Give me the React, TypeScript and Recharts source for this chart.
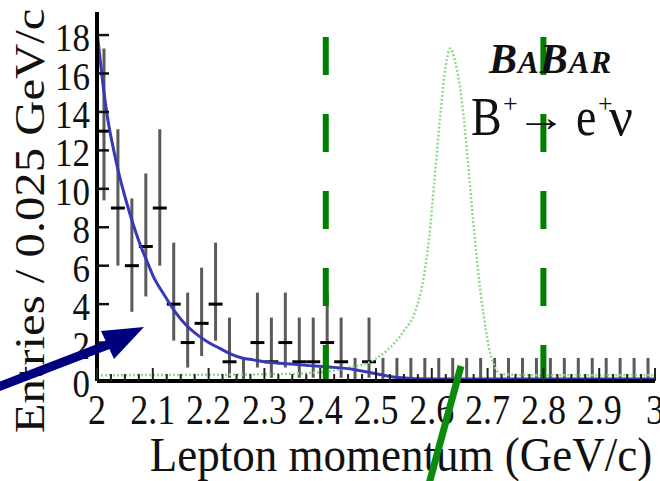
import React from 'react';
import { ComposedChart, Scatter, Line, XAxis, YAxis, ErrorBar, ReferenceLine } from 'recharts';

// histogram: 40 bins of 0.025 GeV/c between 2.0 and 3.0
const binStart = 2.0;
const binWidth = 0.025;
const counts = [13, 9, 6, 7, 9, 4, 2, 3, 4, 1, 0, 2, 1, 2, 1, 1, 2, 1, 0, 1,
  0, 0, 0, 0, 0, 0, 0, 0, 0, 0, 0, 0, 0, 0, 0, 0, 0, 0, 0, 0];
const errLow = [3.6, 3.0, 2.4, 2.6, 3.0, 1.9, 1.3, 1.7, 1.9, 0.83, 0, 1.3, 0.83, 1.3, 0.83, 0.83, 1.3, 0.83, 0, 0.83,
  0, 0, 0, 0, 0, 0, 0, 0, 0, 0, 0, 0, 0, 0, 0, 0, 0, 0, 0, 0];
const errHigh = [4.3, 4.1, 3.5, 3.8, 4.1, 3.2, 2.6, 2.9, 3.2, 2.3, 1.2, 2.6, 2.3, 2.6, 2.3, 2.3, 2.6, 2.3, 1.2, 2.3,
  1.2, 1.2, 1.2, 1.2, 1.2, 1.2, 1.2, 1.2, 1.2, 1.2, 1.2, 1.2, 1.2, 1.2, 1.2, 1.2, 1.2, 1.2, 1.2, 1.2];

// background fit (blue)
const fitX = [2.0, 2.005, 2.01, 2.02, 2.03, 2.04, 2.05, 2.06, 2.07, 2.08, 2.09, 2.1, 2.12, 2.14, 2.16, 2.18,
  2.2, 2.22, 2.24, 2.26, 2.28, 2.3, 2.34, 2.38, 2.42, 2.46, 2.5, 2.54, 2.6, 2.7, 2.8, 2.9, 3.0];
const fitY = [18.2, 16.9, 15.6, 13.5, 12.0, 10.7, 9.6, 8.6, 7.7, 6.9, 6.2, 5.5, 4.5, 3.6, 2.9, 2.4,
  2.0, 1.7, 1.4, 1.2, 1.1, 1.0, 0.9, 0.8, 0.72, 0.6, 0.38, 0.18, 0.1, 0.1, 0.1, 0.1, 0.1];

// signal shape (green dotted)
const sigX = [2.0, 2.3, 2.4, 2.45, 2.49, 2.52, 2.55, 2.57, 2.585, 2.595, 2.605, 2.615, 2.625, 2.633, 2.642,
  2.652, 2.662, 2.672, 2.682, 2.692, 2.702, 2.712, 2.725, 2.8, 3.0];
const sigY = [0.3, 0.35, 0.45, 0.7, 1.0, 1.6, 2.6, 3.6, 5.3, 7.4, 10.5, 13.8, 16.4, 17.3, 16.6,
  15.0, 12.3, 9.0, 6.0, 3.6, 1.8, 0.8, 0.35, 0.3, 0.3];

const xTicks = [2, 2.1, 2.2, 2.3, 2.4, 2.5, 2.6, 2.7, 2.8, 2.9, 3];
const xTickLabels = ['2', '2.1', '2.2', '2.3', '2.4', '2.5', '2.6', '2.7', '2.8', '2.9', '3'];
const yTicks = [0, 2, 4, 6, 8, 10, 12, 14, 16, 18];
const cutLow = 2.41;
const cutHigh = 2.8;

const points = counts.map((n, i) => ({
  x: binStart + binWidth * (i + 0.5),
  n,
  ey: [errLow[i], errHigh[i]],
  ex: n > 0 ? binWidth / 2 : 0,
}));
const fit = fitX.map((x, i) => ({ x, y: fitY[i] }));
const sig = sigX.map((x, i) => ({ x, y: sigY[i] }));
const edges = counts.map((_, i) => +(binStart + binWidth * i).toFixed(3)).concat(3);

const serif = "Liberation Serif, DejaVu Serif, serif";

const BottomTick = (props: any) => {
  const { x, y, payload } = props;
  const idx = xTicks.findIndex(t => Math.abs(t - payload.value) < 1e-6);
  const major = idx >= 0;
  return (
    <g>
      <line x1={x} x2={x} y1={y} y2={y - (major ? 13 : 7)} stroke="#222" strokeWidth={2} />
      {major && (
        <text transform={`translate(${x},${y + 43}) scale(1,1.16)`} textAnchor="middle"
          fontSize={36} fontFamily={serif} fill="#111">{xTickLabels[idx]}</text>
      )}
    </g>
  );
};

const TopTick = (props: any) => {
  const { x, y, payload } = props;
  const major = xTicks.some(t => Math.abs(t - payload.value) < 1e-6);
  return <line x1={x} x2={x} y1={y} y2={y + (major ? 12 : 6)} stroke="#222" strokeWidth={2} />;
};

const LeftTick = (props: any) => {
  const { x, y, payload } = props;
  return (
    <g>
      <line x1={x} x2={x + 12} y1={y} y2={y} stroke="#111" strokeWidth={2.5} />
      <text transform={`translate(${x - 7},${y + 16}) scale(1,1.16)`} textAnchor="end"
        fontSize={35} fontFamily={serif} fill="#111">{payload.value}</text>
    </g>
  );
};

const RightTick = (props: any) => {
  const { x, y } = props;
  return <line x1={x} x2={x - 12} y1={y} y2={y} stroke="#111" strokeWidth={2.5} />;
};

export default function App() {
  return (
    <div style={{ position: 'absolute', left: 0, top: 0, width: 660, height: 481, background: '#fff' }}>
      <ComposedChart width={660} height={481} margin={{ top: 12, right: 5, bottom: 40, left: 37 }}>
        <XAxis dataKey="x" type="number" domain={[2, 3]} ticks={edges} interval={0}
          tick={BottomTick} tickLine={false} tickSize={0} tickMargin={0} height={60}
          axisLine={{ stroke: '#000', strokeWidth: 4 }} allowDataOverflow />
        <XAxis xAxisId="top" orientation="top" dataKey="x" type="number" domain={[2, 3]} ticks={edges}
          interval={0} tick={TopTick} tickLine={false} tickSize={0} tickMargin={0} height={0}
          axisLine={{ stroke: '#000', strokeWidth: 4 }} allowDataOverflow />
        <YAxis type="number" domain={[0, 19.2]} ticks={yTicks} interval={0} tick={LeftTick}
          tickLine={false} tickSize={0} tickMargin={0} width={60}
          axisLine={{ stroke: '#000', strokeWidth: 4 }} allowDataOverflow />
        <YAxis yAxisId="r" orientation="right" type="number" domain={[0, 19.2]} ticks={yTicks}
          interval={0} tick={RightTick} tickLine={false} tickSize={0} tickMargin={0} width={0}
          axisLine={{ stroke: '#000', strokeWidth: 4 }} allowDataOverflow />

        <Scatter data={points} dataKey="n" shape={() => <g />} isAnimationActive={false}>
          <ErrorBar dataKey="ey" direction="y" width={0} stroke="#5a5a5a" strokeWidth={3} isAnimationActive={false} />
          <ErrorBar dataKey="ex" direction="x" width={0} stroke="#000" strokeWidth={3} isAnimationActive={false} />
        </Scatter>
        <Line data={sig} dataKey="y" type="monotone" stroke="#8ddc8d" strokeWidth={2.5}
          strokeDasharray="2 2" dot={false} isAnimationActive={false} />
        <Line data={fit} dataKey="y" type="monotone" stroke="#3838b8" strokeWidth={3}
          dot={false} isAnimationActive={false} />
        <ReferenceLine segment={[{ x: cutLow, y: -0.1 }, { x: cutLow, y: 19.2 }]} ifOverflow="visible"
          stroke="#008000" strokeWidth={6} strokeDasharray="38 39" />
        <ReferenceLine segment={[{ x: cutHigh, y: -0.1 }, { x: cutHigh, y: 19.2 }]} ifOverflow="visible"
          stroke="#008000" strokeWidth={6} strokeDasharray="38 39" />
      </ComposedChart>

      <svg width={660} height={481} style={{ position: 'absolute', left: 0, top: 0, pointerEvents: 'none' }}>
        {/* axis titles */}
        <text transform="translate(44,221) rotate(-90) scale(1.16,1)" textAnchor="middle"
          fontSize={42} fontFamily={serif} fill="#111">Entries / 0.025 GeV/c</text>
        <text transform="translate(401,471) scale(1,1.1)" textAnchor="middle"
          fontSize={45} fontFamily={serif} fill="#111">Lepton momentum (GeV/c)</text>

        {/* experiment + channel */}
        <text x={489} y={73} fontFamily={serif} fontWeight="bold" fontStyle="italic" fill="#111" letterSpacing={1}>
          <tspan fontSize={42}>B</tspan><tspan fontSize={31}>A</tspan><tspan fontSize={42}>B</tspan><tspan fontSize={31}>AR</tspan>
        </text>
        <g fontFamily={serif} fill="#111">
          <text transform="translate(471,135) scale(1,1.2)" fontSize={46}>B</text>
          <text x={503} y={112} fontSize={26}>+</text>
          <text transform="translate(516,131) scale(1.25,1)" fontSize={40}>→</text>
          <text transform="translate(576,135) scale(1,1.2)" fontSize={46}>e</text>
          <text x={598} y={112} fontSize={26}>+</text>
          <text transform="translate(609,135) scale(1.15,1.2)" fontSize={46}>ν</text>
        </g>

        {/* annotations */}
        <line x1={-2} y1={387} x2={110} y2={344} stroke="#00007f" strokeWidth={9} />
        <polygon points="144,327 101,331 114,359" fill="#00007f" />
        <line x1={461} y1={366} x2={429} y2={484} stroke="#0b8a0b" strokeWidth={7} />
      </svg>
    </div>
  );
}
